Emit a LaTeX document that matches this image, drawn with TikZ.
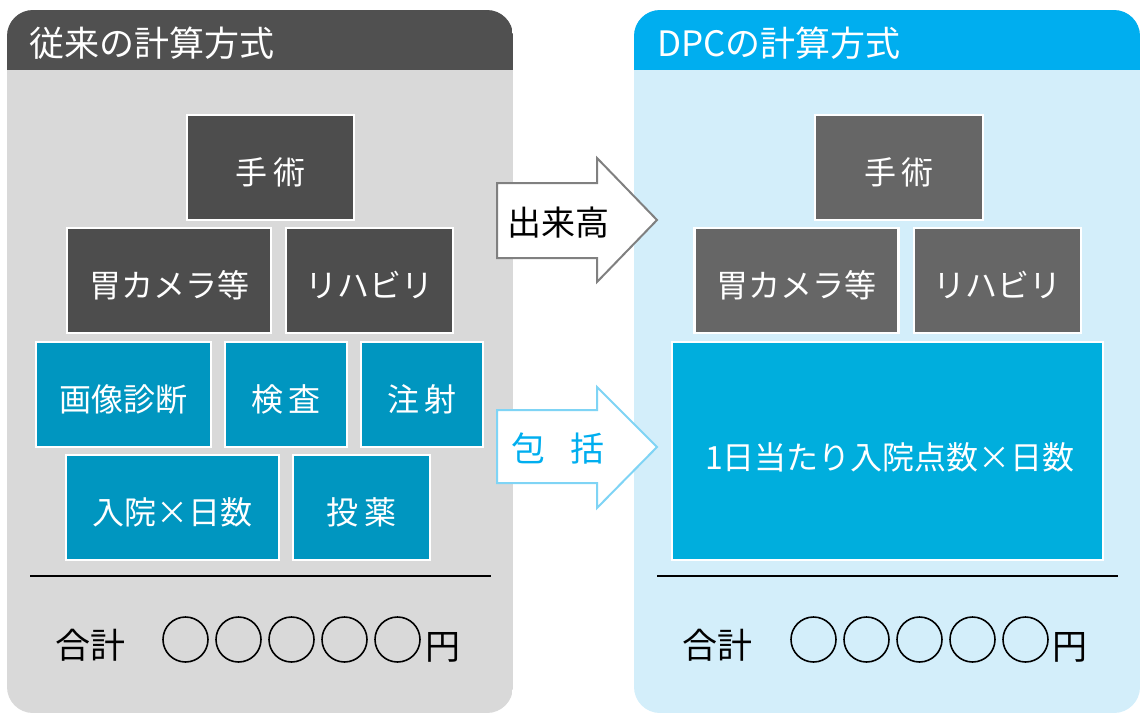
\documentclass[tikz,border=0pt]{standalone}
\usepackage{fontspec}
\setmainfont{Noto Sans CJK JP}
\definecolor{lhead}{HTML}{505050}
\definecolor{lbody}{HTML}{D9D9D9}
\definecolor{rhead}{HTML}{00AEEF}
\definecolor{rbody}{HTML}{D3EEFA}
\definecolor{darkbox}{HTML}{4D4D4D}
\definecolor{tealbox}{HTML}{0096C0}
\definecolor{graybox}{HTML}{666666}
\definecolor{bigbox}{HTML}{00AEDD}
\definecolor{arrgray}{HTML}{808080}
\definecolor{arrblue}{HTML}{7FD4F5}
\definecolor{txtblue}{HTML}{00AEEF}
\tikzset{
  itembox/.style={draw=white, line width=2.5pt, inner sep=0pt, text=white,
    font=\fontsize{32}{34}\selectfont, text height=34pt, text depth=0pt},
  headtext/.style={anchor=west, inner sep=0pt, text=white, font=\fontsize{35}{38}\selectfont},
  sumtext/.style={inner sep=0pt, text=black, font=\fontsize{35}{38}\selectfont},
  digit/.style={draw=black, line width=1.6pt, circle, minimum size=45pt, inner sep=0pt},
  arrtext/.style={inner sep=0pt, font=\fontsize{34}{36}\selectfont},
}
\begin{document}
\begin{tikzpicture}[x=1pt,y=-1pt]
\useasboundingbox (0,0) rectangle (1142,713);
% left panel
\begin{scope}
  \clip[rounded corners=26pt] (7,10) rectangle (513,713);
  \fill[lbody] (7,10) rectangle (513,713);
  \fill[lhead] (7,10) rectangle (513,70);
\end{scope}
% right panel
\begin{scope}
  \clip[rounded corners=26pt] (634,10) rectangle (1140,713);
  \fill[rbody] (634,10) rectangle (1140,713);
  \fill[rhead] (634,10) rectangle (1140,70);
\end{scope}
\node[headtext] (lh) at (29,43) {従来の計算方式};
\node[headtext] (rh) at (657,43) {DPCの計算方式};

% left boxes
\node[itembox, fill=darkbox, minimum width=167pt, minimum height=105pt] (l1) at (270.5,167.5) {手\hspace{0.18em}術};
\node[itembox, fill=darkbox, minimum width=204pt, minimum height=105pt] (l2) at (169,280.5) {胃カメラ等};
\node[itembox, fill=darkbox, minimum width=167pt, minimum height=105pt] (l3) at (369.5,280.5) {リハビリ};
\node[itembox, fill=tealbox, minimum width=175pt, minimum height=105pt] (l4) at (123.5,394.5) {画像診断};
\node[itembox, fill=tealbox, minimum width=122pt, minimum height=105pt] (l5) at (286,394.5) {検\hspace{0.18em}査};
\node[itembox, fill=tealbox, minimum width=122pt, minimum height=105pt] (l6) at (422,394.5) {注\hspace{0.18em}射};
\node[itembox, fill=tealbox, minimum width=213pt, minimum height=105pt] (l7) at (172.5,507.5) {入院×日数};
\node[itembox, fill=tealbox, minimum width=137pt, minimum height=105pt] (l8) at (361.5,507.5) {投\hspace{0.18em}薬};

% right boxes
\node[itembox, fill=graybox, minimum width=168pt, minimum height=105pt] (r1) at (899,167.5) {手\hspace{0.18em}術};
\node[itembox, fill=graybox, minimum width=204pt, minimum height=105pt] (r2) at (796.5,280.5) {胃カメラ等};
\node[itembox, fill=graybox, minimum width=167pt, minimum height=105pt] (r3) at (997.5,280.5) {リハビリ};
\node[itembox, fill=bigbox, minimum width=431pt, minimum height=218pt] (r4) at (887.5,451) {};
\node[inner sep=0pt, text=white, font=\fontsize{32}{34}\selectfont] (r4t) at (890,457) {1日当たり入院点数×日数};

% rules
\coordinate (la) at (30,576); \coordinate (lb) at (491,576);
\coordinate (ra) at (657,576); \coordinate (rb) at (1118,576);
\draw[line width=2pt] (la) -- (lb);
\draw[line width=2pt] (ra) -- (rb);

% totals
\node[sumtext] (ls) at (90,645) {合計};
\foreach \i in {0,...,4} {
  \node[digit] (lc\i) at ({185.5+53*\i},639.5) {};
  \node[digit] (rc\i) at ({813.5+53*\i},639.5) {};
}
\node[sumtext] (lyen) at (443,647) {円};
\node[sumtext] (rs) at (717,645) {合計};
\node[sumtext] (ryen) at (1070,647) {円};

% block arrows
\draw[arrgray, fill=white, line width=2pt, line join=miter]
  (497,183) -- (597,183) -- (597,158) -- (657,220) -- (597,282) -- (597,258) -- (497,258) -- cycle;
\node[arrtext, text=black] (a1) at (558,223) {出来高};
\draw[arrblue, fill=white, line width=2pt, line join=miter]
  (497,410) -- (597,410) -- (597,387) -- (657,447) -- (597,508) -- (597,483) -- (497,483) -- cycle;
\node[arrtext, text=txtblue] (a2) at (558,448) {包\hspace{0.75em}括};
\end{tikzpicture}
\end{document}
